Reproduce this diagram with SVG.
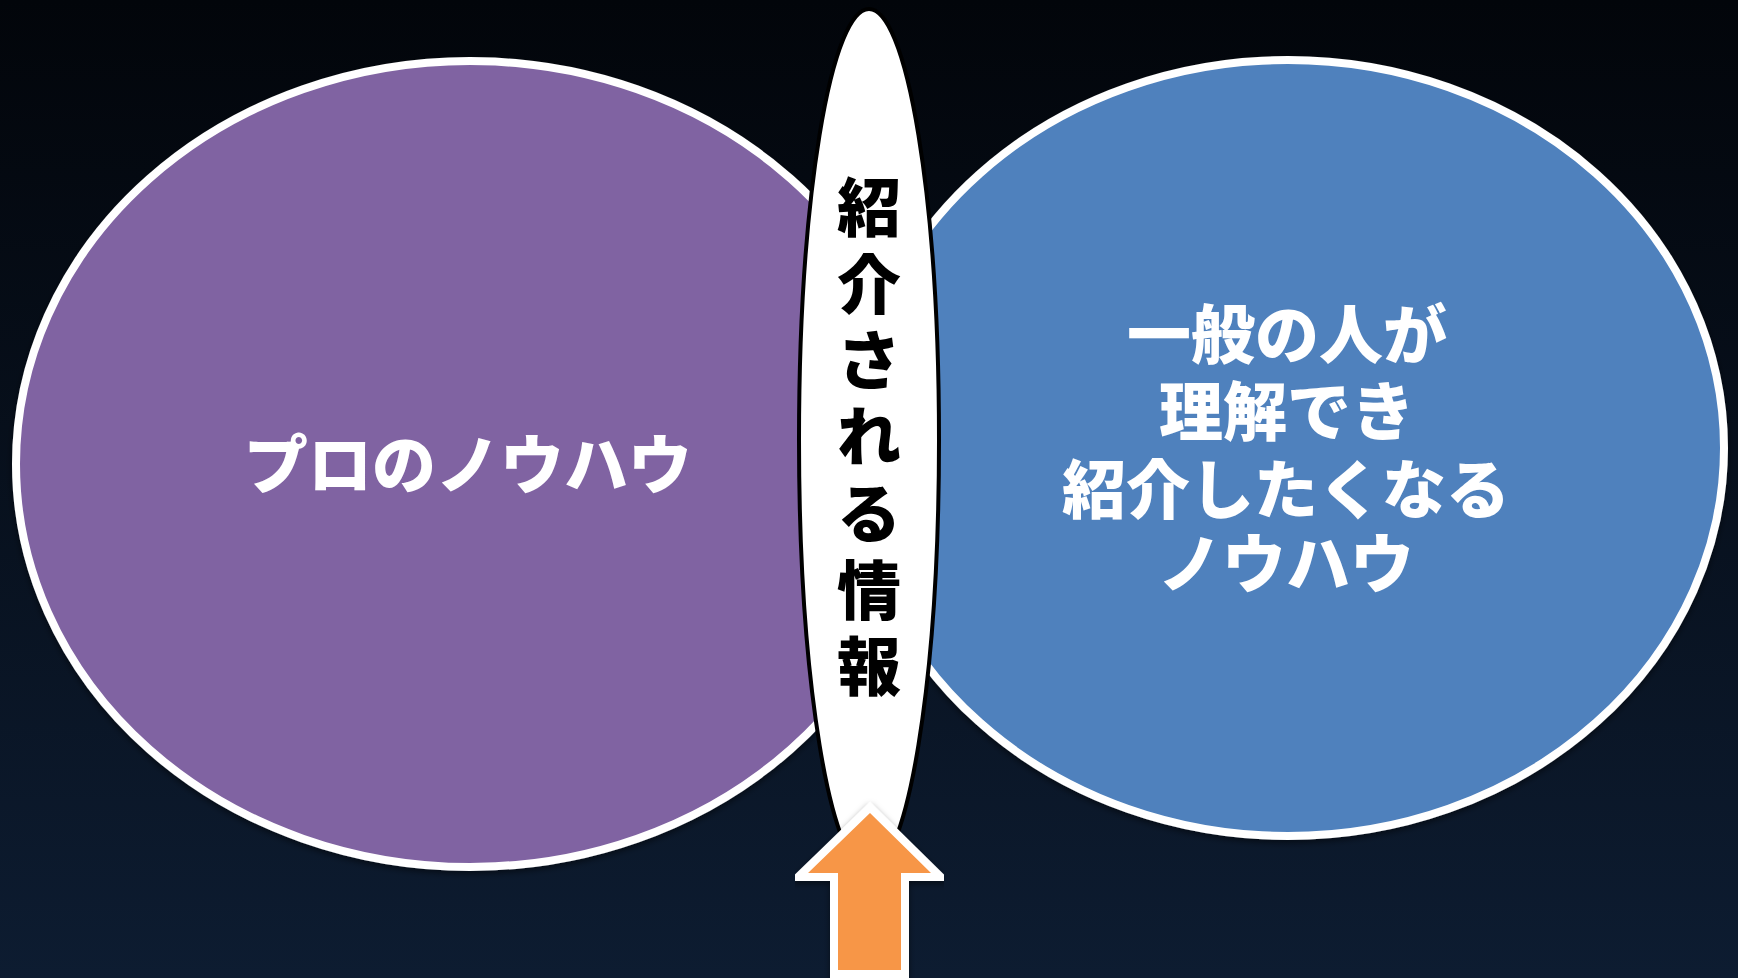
<svg xmlns="http://www.w3.org/2000/svg" width="1738" height="978" viewBox="0 0 1738 978">
  <defs>
    <linearGradient id="bg" x1="0" y1="0" x2="0" y2="1">
      <stop offset="0" stop-color="#02050a"/>
      <stop offset="1" stop-color="#0d1c31"/>
    </linearGradient>
    <filter id="sh" x="-10%" y="-10%" width="120%" height="120%">
      <feDropShadow dx="0" dy="3" stdDeviation="3" flood-color="#000" flood-opacity="0.5"/>
    </filter>
  </defs>
  <style>
    .big { stroke: #ffffff; stroke-width: 8; filter: url(#sh); }
    .wt { fill: #ffffff; font-family: "Noto Sans CJK JP", "Noto Sans CJK SC", sans-serif; font-weight: 900; font-size: 64px; text-anchor: middle; dominant-baseline: central; }
    .bt { fill: #000000; font-family: "Noto Sans CJK JP", "Noto Sans CJK SC", sans-serif; font-weight: 900; font-size: 64px; text-anchor: middle; dominant-baseline: central; }
  </style>
  <rect x="0" y="0" width="1738" height="978" fill="url(#bg)"/>

  <g id="pro-knowhow">
    <ellipse class="big" cx="470" cy="464" rx="454" ry="403" fill="#8064a2"/>
    <text class="wt" x="468" y="460">プロのノウハウ</text>
  </g>

  <g id="general-knowhow">
    <ellipse class="big" cx="1288" cy="448" rx="436" ry="388" fill="#4f81bd"/>
    <text class="wt" x="1287" y="330">一般の人が</text>
    <text class="wt" x="1287" y="407">理解でき</text>
    <text class="wt" x="1286" y="485">紹介したくなる</text>
    <text class="wt" x="1286" y="559">ノウハウ</text>
  </g>

  <g id="shared-info">
    <ellipse cx="869" cy="440" rx="70" ry="431" fill="#ffffff" stroke="#000000" stroke-width="4"/>
    <text class="bt" x="869" y="203">紹</text>
    <text class="bt" x="869" y="280">介</text>
    <text class="bt" x="869" y="356">さ</text>
    <text class="bt" x="869" y="432">れ</text>
    <text class="bt" x="869" y="509">る</text>
    <text class="bt" x="869" y="586">情</text>
    <text class="bt" x="869" y="662">報</text>
  </g>

  <g id="connectors">
    <polygon points="870,813 931,873 901,873 901,970 838,970 838,873 808,873" fill="#f79646" stroke="#ffffff" stroke-width="16" stroke-linejoin="miter" paint-order="stroke" filter="url(#sh)"/>
  </g>
</svg>
